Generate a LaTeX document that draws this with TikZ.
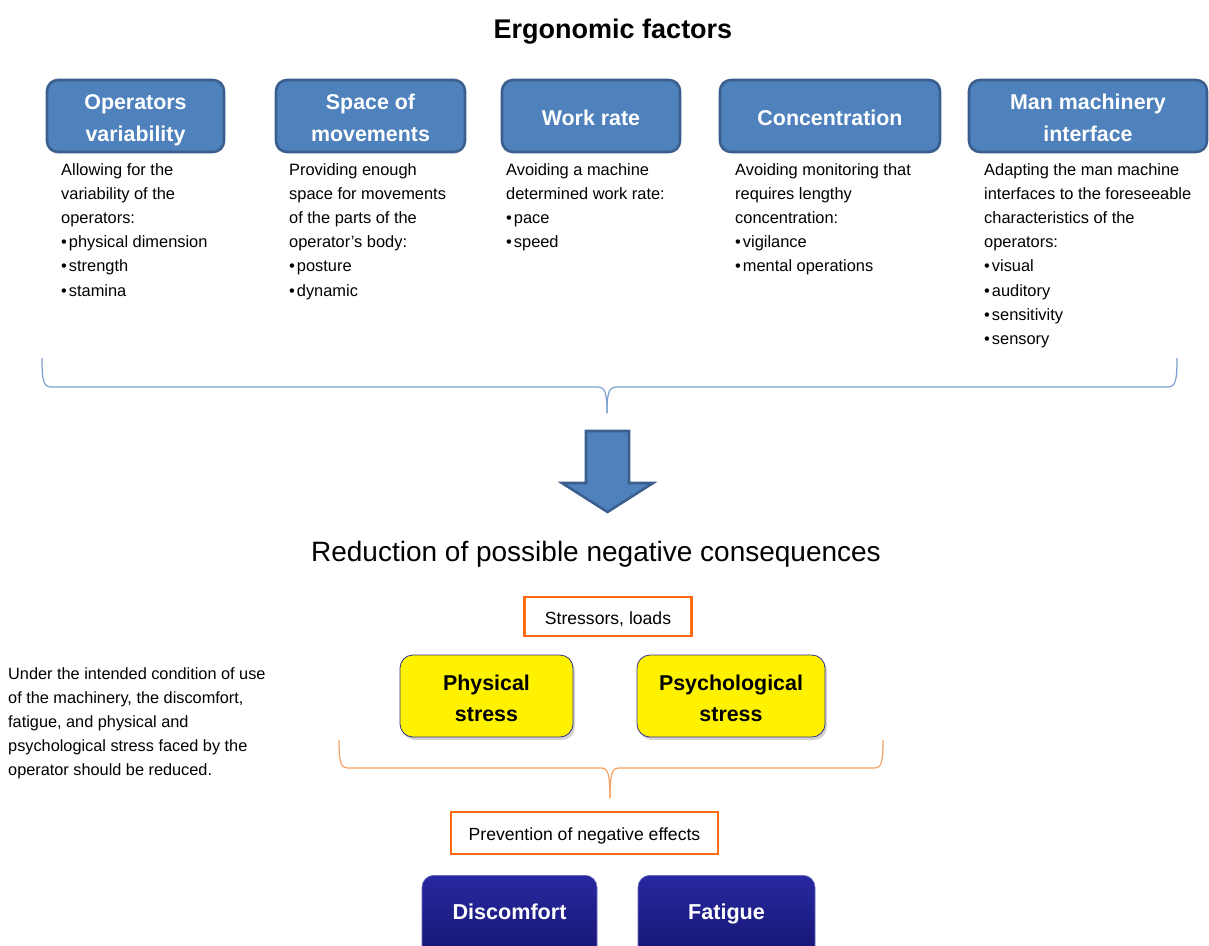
\documentclass[tikz,border=0pt]{standalone}
\usepackage{fontspec}
\setmainfont{Liberation Sans}
\usetikzlibrary{shadows}
\definecolor{hdrfill}{HTML}{4F81BD}
\definecolor{hdrdraw}{HTML}{3A5F8E}
\definecolor{bracecol}{HTML}{7BA0CD}
\definecolor{orangecol}{HTML}{FF6A13}
\definecolor{obrace}{HTML}{F4A060}
\definecolor{navytop}{HTML}{2828A0}
\definecolor{navybot}{HTML}{14146E}
\definecolor{yelldraw}{HTML}{30308A}
\tikzset{
  hdr/.style={draw=hdrdraw, line width=2.6pt, fill=hdrfill, rounded corners=11pt, text=white,
    font=\fontsize{21.4}{32}\selectfont\bfseries, align=center, inner sep=0pt},
  body/.style={anchor=north west, inner sep=0pt, align=left, font=\fontsize{16.4}{24.2}\selectfont},
  obox/.style={draw=orangecol, line width=2.8pt, fill=white, inner sep=0pt, font=\fontsize{17.6}{22}\selectfont},
  ybox/.style={draw=yelldraw, line width=0.8pt, fill=yellow, rounded corners=13pt, align=center,
    font=\fontsize{21.4}{31}\selectfont\bfseries, inner sep=0pt,
    drop shadow={opacity=0.35, shadow xshift=2pt, shadow yshift=-3pt}},
  nbox/.style={draw=navytop!70!white, line width=0.6pt, top color=navytop, bottom color=navybot, rounded corners=12pt,
    text=white, font=\fontsize{21.6}{31}\selectfont\bfseries, inner sep=0pt},
  bl/.style={draw=bracecol, line width=1.2pt},
  ob/.style={draw=obrace, line width=1.2pt},
}
\newcommand{\bu}{\textbullet\hspace{2pt}}
\newcommand{\hs}{\rule[-0.22em]{0pt}{1.33em}}
\begin{document}
\begin{tikzpicture}[x=1pt,y=-1pt]
\useasboundingbox (0,0) rectangle (1209,945);
\clip (0,0) rectangle (1209,945);

\node[font=\fontsize{27}{32}\selectfont\bfseries] (title) at (613,26.5) {\hs Ergonomic factors};

% header boxes
\node[hdr, minimum width=177pt, minimum height=72pt] (h1) at (135.5,116) {\hs Operators\\\hs variability};
\node[hdr, minimum width=189pt, minimum height=72pt] (h2) at (370.5,116) {\hs Space of\\\hs movements};
\node[hdr, minimum width=178pt, minimum height=72pt] (h3) at (591,116) {\hs Work rate};
\node[hdr, minimum width=220pt, minimum height=72pt] (h4) at (830,116) {\hs Concentration};
\node[hdr, minimum width=238pt, minimum height=72pt] (h5) at (1088,116) {\hs Man machinery\\\hs interface};

% body texts
\node[body] (t1) at (61,163) {Allowing for the\\variability of the\\operators:\\\bu physical dimension\\\bu strength\\\bu stamina};
\node[body] (t2) at (289,163) {Providing enough\\space for movements\\of the parts of the\\operator’s body:\\\bu posture\\\bu dynamic};
\node[body] (t3) at (506,163) {Avoiding a machine\\determined work rate:\\\bu pace\\\bu speed};
\node[body] (t4) at (735,163) {Avoiding monitoring that\\requires lengthy\\concentration:\\\bu vigilance\\\bu mental operations};
\node[body] (t5) at (984,163) {Adapting the man machine\\interfaces to the foreseeable\\characteristics of the\\operators:\\\bu visual\\\bu auditory\\\bu sensitivity\\\bu sensory};

% blue brace
\coordinate (bL) at (42,358);
\coordinate (bR) at (1177,358);
\coordinate (bT) at (607,413);
\draw[bl] (bL) .. controls (42,383) and (44,387) .. (52,387) -- (597,387)
  .. controls (605,387) and (607,392) .. (bT);
\draw[bl] (bT) .. controls (607,392) and (609,387) .. (617,387) -- (1167,387)
  .. controls (1175,387) and (1177,383) .. (bR);

% big arrow
\draw[draw=hdrdraw, line width=2.6pt, fill=hdrfill, line join=miter]
  (586,431) -- (629,431) -- (629,483) -- (653,483) -- (607.5,512) -- (562,483) -- (586,483) -- cycle;
\coordinate (arrowtip) at (607.5,512);

\node[font=\fontsize{28}{32}\selectfont] (red) at (596,549) {\hs Reduction of possible negative consequences};

\node[obox, minimum width=167pt, minimum height=39pt] (stress) at (608,616.5) {\hs Stressors, loads};

\node[ybox, minimum width=173pt, minimum height=82pt] (phys) at (486.5,696) {\hs Physical\\\hs stress};
\node[ybox, minimum width=188pt, minimum height=82pt] (psych) at (731,696) {\hs Psychological\\\hs stress};

% orange brace
\coordinate (oL) at (339,740);
\coordinate (oR) at (883,740);
\coordinate (oT) at (610,798);
\draw[ob] (oL) .. controls (339,764) and (341,768) .. (349,768) -- (601,768)
  .. controls (608,768) and (610,774) .. (oT);
\draw[ob] (oT) .. controls (610,774) and (612,768) .. (619,768) -- (874,768)
  .. controls (881,768) and (883,764) .. (oR);

\node[obox, minimum width=267pt, minimum height=42pt] (prev) at (584.5,833) {\hs Prevention of negative effects};

\node[nbox, minimum width=175pt, minimum height=90pt, anchor=north] (disc) at (509.5,875) {};
\node[text=white, font=\fontsize{21.6}{31}\selectfont\bfseries] (disct) at (509.5,909.5) {\hs Discomfort};
\node[nbox, minimum width=177pt, minimum height=90pt, anchor=north] (fat) at (726.5,875) {};
\node[text=white, font=\fontsize{21.6}{31}\selectfont\bfseries] (fatt) at (726.5,909.5) {\hs Fatigue};

\node[body, font=\fontsize{16.3}{24.1}\selectfont] (left) at (8,667) {Under the intended condition of use\\of the machinery, the discomfort,\\fatigue, and physical and\\psychological stress faced by the\\operator should be reduced.};
\end{tikzpicture}
\end{document}
